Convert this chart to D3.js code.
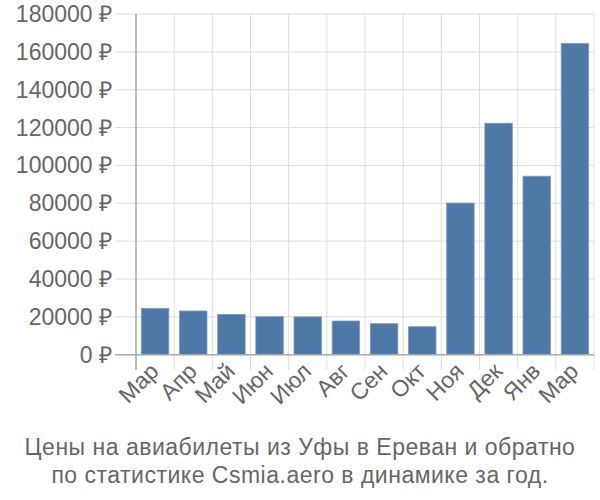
<!DOCTYPE html>
<html><head><meta charset="utf-8">
<script src="https://cdn.jsdelivr.net/npm/d3@7"></script>
<style>body{margin:0;background:#fff}svg{display:block}text{font-family:"Liberation Sans",Arial,sans-serif}</style>
</head><body><svg id="c" width="600" height="500"></svg>
<script>
const months = ["Мар","Апр","Май","Июн","Июл","Авг","Сен","Окт","Ноя","Дек","Янв","Мар"];
const prices = [24500,23100,21300,20100,20000,17800,16400,14800,80100,122300,94300,164500];
const yTicks = [0,20000,40000,60000,80000,100000,120000,140000,160000,180000];
const titleLines = ["Цены на авиабилеты из Уфы в Ереван и обратно","по статистике Csmia.aero в динамике за год."];

const svg = d3.select("#c");
const L = 136, R = 594, T = 14, B = 354.7;
const x = d3.scaleBand().domain(d3.range(months.length)).range([L,R]).paddingInner(0.28).paddingOuter(0.14);
const y = d3.scaleLinear().domain([0,180000]).range([B,T]);

svg.append("g").selectAll("line").data(yTicks).join("line")
  .attr("x1",115).attr("x2",R).attr("y1",d=>y(d)).attr("y2",d=>y(d))
  .attr("stroke","#dddddd").attr("stroke-width",1);
const step = x.step();
svg.append("g").selectAll("line").data(d3.range(months.length+1)).join("line")
  .attr("x1",i=>L+i*step).attr("x2",i=>L+i*step).attr("y1",T).attr("y2",370)
  .attr("stroke","#dddddd").attr("stroke-width",1);

svg.append("g").selectAll("rect").data(prices).join("rect")
  .attr("x",(d,i)=>x(i)).attr("width",x.bandwidth())
  .attr("y",d=>y(d)).attr("height",d=>B-y(d))
  .attr("fill","#4e78a6").attr("stroke","#7c9cc2").attr("stroke-width",0.8);

svg.append("line").attr("x1",L).attr("x2",L).attr("y1",T).attr("y2",370).attr("stroke","#aaaaaa").attr("stroke-width",1.5);
svg.append("line").attr("x1",115).attr("x2",R).attr("y1",B).attr("y2",B).attr("stroke","#aaaaaa").attr("stroke-width",1.5);

svg.append("g").selectAll("text").data(yTicks).join("text")
  .attr("x",112).attr("y",d=>y(d)).attr("dy","0.35em").attr("text-anchor","end")
  .attr("font-size",23).attr("fill","#666666").text(d=>d+" ₽");

svg.append("g").selectAll("text").data(months).join("text")
  .attr("text-anchor","end").attr("font-size",23).attr("fill","#666666")
  .attr("transform",(d,i)=>`translate(${x(i)+x.bandwidth()/2+5},${B+18}) rotate(-45)`)
  .text(d=>d);

svg.append("g").selectAll("text").data(titleLines).join("text")
  .attr("x",300).attr("y",(d,i)=>455+i*28).attr("text-anchor","middle")
  .attr("font-size",23).attr("letter-spacing",0.5).attr("fill","#666666").text(d=>d);
</script></body></html>
